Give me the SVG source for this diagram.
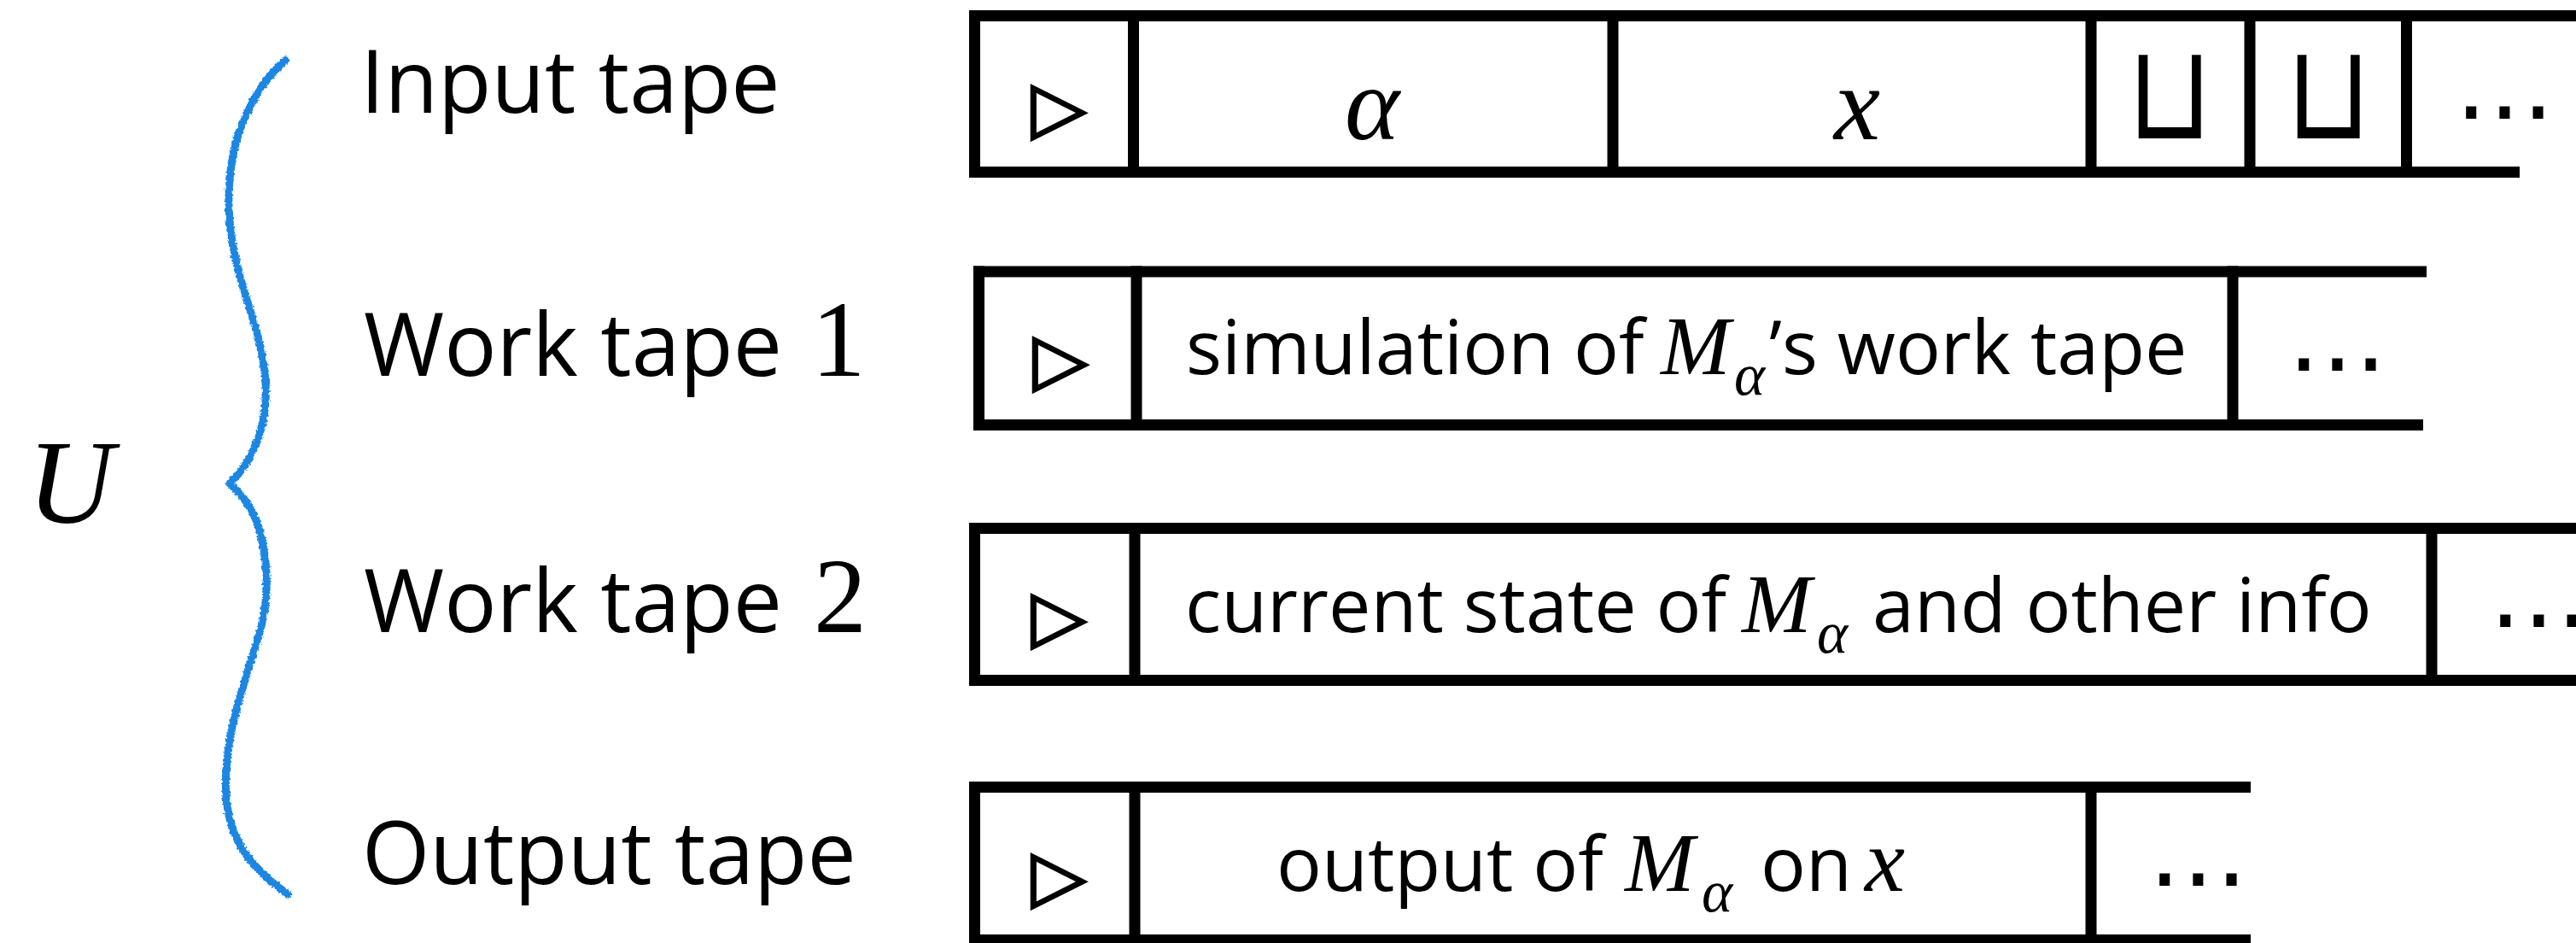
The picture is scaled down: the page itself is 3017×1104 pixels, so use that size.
<svg xmlns="http://www.w3.org/2000/svg" width="3017" height="1104" viewBox="0 0 3017 1104">
<style>
.bar{stroke:#000;stroke-width:13;stroke-linecap:butt;fill:none}
.lbl{font-family:'Open Sans','Noto Sans',sans-serif;font-size:102px;fill:#000}
.num{font-family:'Liberation Serif',serif;fill:#000}
.cell{font-family:'Open Sans','Noto Sans',sans-serif;font-size:88px;fill:#000}
.mi{font-family:'Liberation Serif',serif;font-style:italic;fill:#000}
.sym{font-family:'DejaVu Sans',sans-serif;fill:#000}
.tri{font-family:'DejaVu Sans',sans-serif;font-size:84px;fill:#000;stroke:#000;stroke-width:2.5}
.dots{font-family:'DejaVu Sans',sans-serif;font-size:117px;fill:#000}
.brace{fill:none;stroke:#1B86E2;stroke-width:9;stroke-linecap:round;stroke-linejoin:round}
</style>
<defs>
<filter id="crayon" x="-20%" y="-5%" width="140%" height="110%">
<feTurbulence type="fractalNoise" baseFrequency="0.35" numOctaves="2" seed="3" result="n"/>
<feDisplacementMap in="SourceGraphic" in2="n" scale="5" xChannelSelector="R" yChannelSelector="G"/>
</filter>
</defs>
<rect width="3017" height="1104" fill="#fff"/>

<g id="U-label">
<text class="mi" x="32" y="612" font-size="140">U</text>
</g>

<g id="brace">
<path class="brace" filter="url(#crayon)" d="M335,70 C300,100 274,150 269,210 C264,265 276,310 292,360 C310,415 318,462 305,505 C296,535 282,553 269,566 C283,579 299,597 306,628 C318,682 312,722 295,770 C276,830 261,880 265,935 C270,990 300,1020 337,1047"/>
</g>

<g id="labels">
<text class="lbl" x="422" y="132">Input tape</text>
<text class="lbl" x="426" y="440">Work tape</text>
<text class="num" x="982" y="440" font-size="127" text-anchor="middle">1</text>
<text class="lbl" x="426" y="740">Work tape</text>
<text class="num" x="984" y="740" font-size="124" text-anchor="middle">2</text>
<text class="lbl" x="424" y="1035">Output tape</text>
</g>

<g id="input-tape">
<line class="bar" x1="1135" y1="18.5" x2="3017" y2="18.5"/>
<line class="bar" x1="1135" y1="201.5" x2="2951" y2="201.5"/>
<line class="bar" x1="1141.5" y1="12" x2="1141.5" y2="208"/>
<line class="bar" x1="1327.5" y1="12" x2="1327.5" y2="208"/>
<line class="bar" x1="1889" y1="12" x2="1889" y2="208"/>
<line class="bar" x1="2449" y1="12" x2="2449" y2="208"/>
<line class="bar" x1="2635" y1="12" x2="2635" y2="208"/>
<line class="bar" x1="2818.5" y1="12" x2="2818.5" y2="208"/>
<text class="tri" x="1240" y="154" text-anchor="middle">▷</text>
<text class="mi" x="1607" y="163" font-size="122" text-anchor="middle">α</text>
<text class="mi" x="2175" y="163" font-size="122" text-anchor="middle">x</text>
<text class="sym" transform="translate(2541,162) scale(1,1.22)" font-size="128" text-anchor="middle">⊔</text>
<text class="sym" transform="translate(2727,162) scale(1,1.22)" font-size="128" text-anchor="middle">⊔</text>
<text class="dots" x="2933" y="168" text-anchor="middle">⋯</text>
</g>

<g id="work-tape-1">
<line class="bar" x1="1140" y1="318" x2="2842" y2="318"/>
<line class="bar" x1="1140" y1="497.5" x2="2838" y2="497.5"/>
<line class="bar" x1="1146.5" y1="311.5" x2="1146.5" y2="504"/>
<line class="bar" x1="1331" y1="311.5" x2="1331" y2="504"/>
<line class="bar" x1="2615" y1="311.5" x2="2615" y2="504"/>
<text class="tri" x="1242" y="449" text-anchor="middle">▷</text>
<text class="cell" y="438"><tspan x="1389">simulation of</tspan><tspan class="mi" x="1945" font-size="98">M</tspan><tspan class="mi" x="2031" y="462" font-size="69">α</tspan><tspan x="2072" y="438">’s work tape</tspan></text>
<text class="dots" x="2737" y="463" text-anchor="middle">⋯</text>
</g>

<g id="work-tape-2">
<line class="bar" x1="1135" y1="618.5" x2="3017" y2="618.5"/>
<line class="bar" x1="1135" y1="796.5" x2="3017" y2="796.5"/>
<line class="bar" x1="1141.5" y1="612" x2="1141.5" y2="803"/>
<line class="bar" x1="1329" y1="612" x2="1329" y2="803"/>
<line class="bar" x1="2848" y1="612" x2="2848" y2="803"/>
<text class="tri" x="1240" y="750" text-anchor="middle">▷</text>
<text class="cell" y="740"><tspan x="1388">current state of</tspan><tspan class="mi" x="2040" font-size="98">M</tspan><tspan class="mi" x="2128" y="764" font-size="69">α</tspan><tspan x="2193" y="740">and other info</tspan></text>
<text class="dots" x="2973" y="763" text-anchor="middle">⋯</text>
</g>

<g id="output-tape">
<line class="bar" x1="1135" y1="921.5" x2="2636" y2="921.5"/>
<line class="bar" x1="1135" y1="1100.5" x2="2636" y2="1100.5"/>
<line class="bar" x1="1141.5" y1="915" x2="1141.5" y2="1107"/>
<line class="bar" x1="1329" y1="915" x2="1329" y2="1107"/>
<line class="bar" x1="2449" y1="915" x2="2449" y2="1107"/>
<text class="tri" x="1240" y="1054" text-anchor="middle">▷</text>
<text class="cell" y="1043"><tspan x="1495">output of</tspan><tspan class="mi" x="1903" font-size="98">M</tspan><tspan class="mi" x="1993" y="1067" font-size="69">α</tspan><tspan x="2062" y="1043">on</tspan><tspan class="mi" x="2184" font-size="106">x</tspan></text>
<text class="dots" x="2574" y="1066" text-anchor="middle">⋯</text>
</g>
</svg>
